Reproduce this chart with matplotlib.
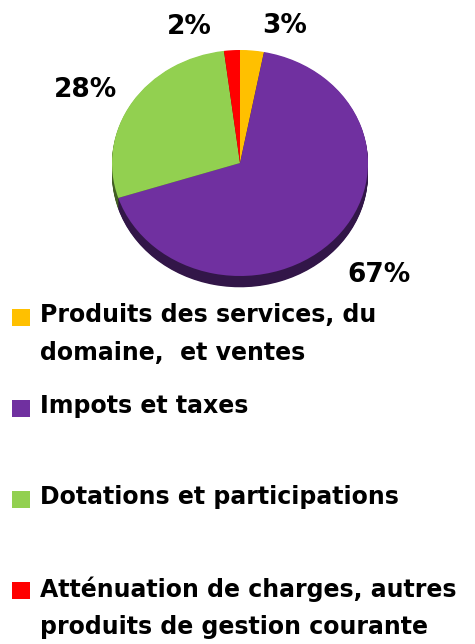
import numpy as np
import matplotlib
matplotlib.use('Agg')
import matplotlib.pyplot as plt
from matplotlib.patches import Rectangle
from matplotlib.colors import to_rgb

# data
labels = ['Produits des services, du\ndomaine,  et ventes',
          'Impots et taxes',
          'Dotations et participations',
          'Atténuation de charges, autres\nproduits de gestion courante']
values = [3, 67, 28, 2]
pct_text = ['3%', '67%', '28%', '2%']
colors = ['#FFC000', '#7030A0', '#92D050', '#FF0000']

W, H = 475, 644
fig = plt.figure(figsize=(W / 100, H / 100), dpi=100)

# pie axes: ellipse centre (240,163) px, radii 128 x 113 px
cx, cy, rx, ry = 240, 163, 128, 113
xl, yl = 1.6, 1.35
ax = fig.add_axes([(cx - rx * xl) / W, 1 - (cy + ry * yl) / H,
                   2 * rx * xl / W, 2 * ry * yl / H])

# side of the "3d" pie: stacked darker pies
depth = 0.1
dark = [tuple(0.45 * c for c in to_rgb(col)) for col in colors]
for off in np.linspace(-depth, 0, 16)[:-1]:
    ax.pie(values, colors=dark, startangle=90, counterclock=False,
           center=(0, off), wedgeprops=dict(linewidth=0))
ax.pie(values, colors=colors, startangle=90, counterclock=False,
       wedgeprops=dict(linewidth=0))
ax.set_aspect('auto')
ax.set_xlim(-xl, xl)
ax.set_ylim(-yl, yl)
ax.axis('off')

# percent labels (angle in degrees, radius)
lab_pos = [(74, 1.26), (-42.5, 1.47), (152, 1.37), (108, 1.27)]
for t, (a, r) in zip(pct_text, lab_pos):
    ax.text(r * np.cos(np.radians(a)), r * np.sin(np.radians(a)), t,
            ha='center', va='center', fontsize=19, fontweight='bold')

# legend drawn by hand
leg_y = [317, 408, 499, 590]
for lab, col, y in zip(labels, colors, leg_y):
    fig.patches.append(Rectangle((12 / W, 1 - (y + 9) / H), 18 / W, 17 / H,
                                 facecolor=col, edgecolor='none',
                                 transform=fig.transFigure))
    fig.text(40 / W, 1 - (y - 14) / H, lab, ha='left', va='top',
             fontsize=17, fontweight='bold', linespacing=1.72)

plt.savefig('out.png', dpi=100)
